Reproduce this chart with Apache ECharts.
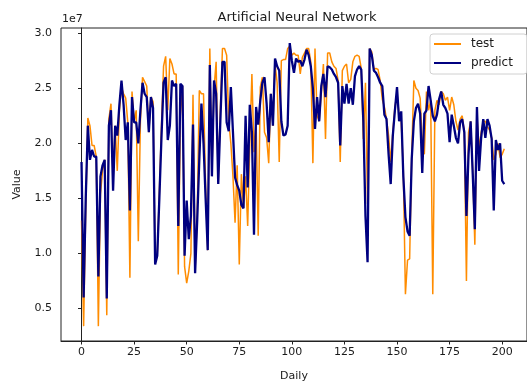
<!DOCTYPE html>
<html>
<head>
<meta charset="utf-8">
<script src="https://cdn.jsdelivr.net/npm/echarts@6/dist/echarts.min.js"></script>
<style>
  html, body { margin: 0; padding: 0; background: #fff; }
  #chart { width: 527px; height: 387px; }
</style>
</head>
<body>
<div id="chart"></div>
<script>
// values are in units of 1e7 (matplotlib offset text)
const testValues = [
  1.30, 0.34, 1.40, 2.23, 2.16, 1.98, 1.98, 1.88, 0.34, 1.54,
  1.75, 1.85, 0.44, 2.22, 2.36, 1.67, 2.16, 1.75, 2.30, 2.51,
  2.45, 2.41, 2.19, 0.78, 2.47, 2.20, 2.30, 1.11, 2.20, 2.60,
  2.56, 2.52, 2.10, 2.42, 2.38, 0.92, 0.98, 1.55, 2.15, 2.70,
  2.79, 2.30, 2.77, 2.72, 2.63, 2.63, 0.81, 2.25, 2.52, 0.88,
  0.73, 0.84, 1.00, 2.44, 0.85, 1.35, 2.48, 2.45, 2.45, 1.60,
  1.03, 2.86, 1.75, 2.50, 2.74, 1.63, 2.30, 2.86, 2.86, 2.80,
  2.20, 2.00, 1.70, 1.28, 1.80, 0.90, 1.72, 1.41, 1.70, 1.25,
  2.00, 2.63, 1.92, 2.20, 1.16, 2.51, 2.60, 2.10, 2.05, 1.82,
  2.45, 2.16, 2.72, 2.55, 1.83, 2.75, 2.76, 2.76, 2.86, 2.88,
  2.80, 2.82, 2.80, 2.80, 2.63, 2.78, 2.82, 2.86, 2.86, 2.74,
  1.82, 2.86, 2.25, 2.20, 2.45, 2.72, 2.04, 2.82, 2.82, 2.74,
  2.70, 2.68, 2.57, 1.83, 2.66, 2.70, 2.72, 2.55, 2.58, 2.74,
  2.79, 2.80, 2.79, 2.68, 2.04, 2.55, 1.45, 2.86, 2.83, 2.67,
  2.68, 2.67, 2.57, 2.40, 2.33, 2.22, 2.07, 1.83, 2.10, 2.33,
  2.45, 2.25, 2.20, 1.75, 0.63, 0.94, 0.95, 1.90, 2.57, 2.50,
  2.48, 2.41, 2.00, 1.90, 2.47, 2.30, 2.39, 0.63, 2.30, 2.39,
  2.35, 2.47, 2.45, 2.39, 2.42, 2.30, 2.42, 2.35, 2.20, 2.12,
  2.22, 2.25, 2.10, 0.75, 2.10, 2.20, 1.75, 1.08, 2.25, 1.95,
  2.10, 2.20, 2.20, 2.15, 2.12, 2.05, 1.85, 1.90, 2.00, 1.87,
  1.90, 1.95
];
const predictValues = [
  1.83, 0.60, 1.50, 2.16, 1.85, 1.94, 1.88, 1.88, 0.79, 1.70,
  1.80, 1.85, 0.59, 2.16, 2.30, 1.57, 2.16, 2.07, 2.35, 2.57,
  2.35, 2.03, 2.19, 1.39, 2.42, 2.19, 2.19, 2.00, 2.30, 2.55,
  2.45, 2.42, 2.10, 2.42, 2.32, 0.90, 0.98, 1.50, 2.05, 2.55,
  2.60, 2.03, 2.16, 2.57, 2.52, 2.54, 1.25, 2.54, 2.52, 0.98,
  1.48, 1.13, 1.34, 2.17, 0.82, 1.30, 1.85, 2.36, 2.00, 1.50,
  1.03, 2.71, 1.70, 2.57, 2.45, 1.63, 2.20, 2.74, 2.74, 2.19,
  2.11, 2.51, 2.10, 1.69, 1.62, 1.57, 1.44, 1.41, 2.25, 1.60,
  2.35, 2.10, 1.17, 2.33, 2.17, 2.39, 2.55, 2.60, 2.36, 2.01,
  2.45, 2.16, 2.77, 2.70, 2.66, 2.20, 2.07, 2.08, 2.16, 2.91,
  2.75, 2.64, 2.77, 2.74, 2.75, 2.70, 2.76, 2.85, 2.80, 2.70,
  2.50, 2.13, 2.42, 2.20, 2.52, 2.63, 2.42, 2.70, 2.69, 2.67,
  2.63, 2.60, 2.55, 1.98, 2.52, 2.36, 2.54, 2.36, 2.50, 2.35,
  2.61, 2.67, 2.70, 2.67, 2.20, 1.34, 0.92, 2.86, 2.80, 2.66,
  2.64, 2.60, 2.55, 2.52, 2.26, 2.22, 1.90, 1.63, 2.07, 2.30,
  2.51, 2.20, 2.29, 1.70, 1.33, 1.20, 1.16, 1.86, 2.20, 2.32,
  2.36, 2.27, 1.73, 2.27, 2.30, 2.52, 2.39, 2.25, 2.20, 2.26,
  2.40, 2.47, 2.35, 2.32, 2.27, 2.01, 2.26, 2.16, 2.05, 2.00,
  2.19, 2.22, 2.10, 1.34, 1.90, 2.20, 1.72, 1.22, 2.33, 1.75,
  2.05, 2.22, 2.05, 2.22, 2.16, 2.04, 1.39, 2.03, 1.94, 2.00,
  1.66, 1.63
];
const xTicks = [0, 25, 50, 75, 100, 125, 150, 175, 200];
const yTicks = [0.5, 1.0, 1.5, 2.0, 2.5, 3.0];
const seriesNames = ['test', 'predict'];

const font = 'DejaVu Sans';
const textColor = '#1a1a1a';

var chart = echarts.init(document.getElementById('chart'), null, { renderer: 'canvas' });

function toPairs(arr) {
  return arr.map(function (v, i) { return [i, v]; });
}

var option = {
  animation: false,
  backgroundColor: '#fff',
  title: {
    text: 'Artificial Neural Network',
    left: 292,
    top: 6,
    textAlign: 'center',
    textStyle: { fontFamily: font, fontSize: 13, fontWeight: 'normal', color: textColor }
  },
  graphic: [{
    type: 'text',
    left: 62,
    top: 14,
    style: { text: '1e7', font: '11px "DejaVu Sans"', fill: textColor }
  }],
  legend: {
    orient: 'vertical',
    left: 430,
    top: 34,
    padding: [3, 14, 4, 4],
    itemGap: 5,
    itemWidth: 27,
    itemHeight: 2,
    icon: 'rect',
    backgroundColor: 'rgba(255,255,255,0.85)',
    borderColor: '#d0d0d0',
    borderWidth: 1,
    borderRadius: 3,
    textStyle: { fontFamily: font, fontSize: 12, color: textColor, lineHeight: 14, padding: [0, 0, 0, 5] },
    data: seriesNames
  },
  grid: {
    left: 61,
    top: 28,
    width: 470,
    height: 322,
    show: true,
    borderColor: '#222',
    borderWidth: 1
  },
  xAxis: {
    type: 'value',
    min: -9.76,
    max: 211.8,
    name: 'Daily',
    nameLocation: 'middle',
    nameGap: 30,
    nameTextStyle: { fontFamily: font, fontSize: 11, color: textColor },
    axisLine: { show: true, lineStyle: { color: '#222', width: 1 } },
    axisTick: { show: true, length: 3.5, lineStyle: { color: '#222' }, customValues: xTicks },
    axisLabel: { fontFamily: font, fontSize: 11, color: textColor, margin: 6, customValues: xTicks },
    splitLine: { show: false }
  },
  yAxis: {
    type: 'value',
    min: 0.205,
    max: 3.047,
    name: 'Value',
    nameLocation: 'middle',
    nameGap: 38,
    nameTextStyle: { fontFamily: font, fontSize: 11, color: textColor },
    axisLine: { show: true, lineStyle: { color: '#222', width: 1 } },
    axisTick: { show: true, length: 3.5, lineStyle: { color: '#222' }, customValues: yTicks },
    axisLabel: {
      fontFamily: font, fontSize: 11, color: textColor, margin: 9, customValues: yTicks,
      formatter: function (v) { return v.toFixed(1); }
    },
    splitLine: { show: false }
  },
  series: [
    {
      name: seriesNames[0],
      type: 'line',
      data: toPairs(testValues),
      showSymbol: false,
      symbol: 'none',
      color: '#ff8c00',
      lineStyle: { color: '#ff8c00', width: 1.5 },
      z: 2
    },
    {
      name: seriesNames[1],
      type: 'line',
      data: toPairs(predictValues),
      showSymbol: false,
      symbol: 'none',
      color: '#000080',
      lineStyle: { color: '#000080', width: 2.3 },
      z: 3
    }
  ]
};

chart.setOption(option);
</script>
</body>
</html>
